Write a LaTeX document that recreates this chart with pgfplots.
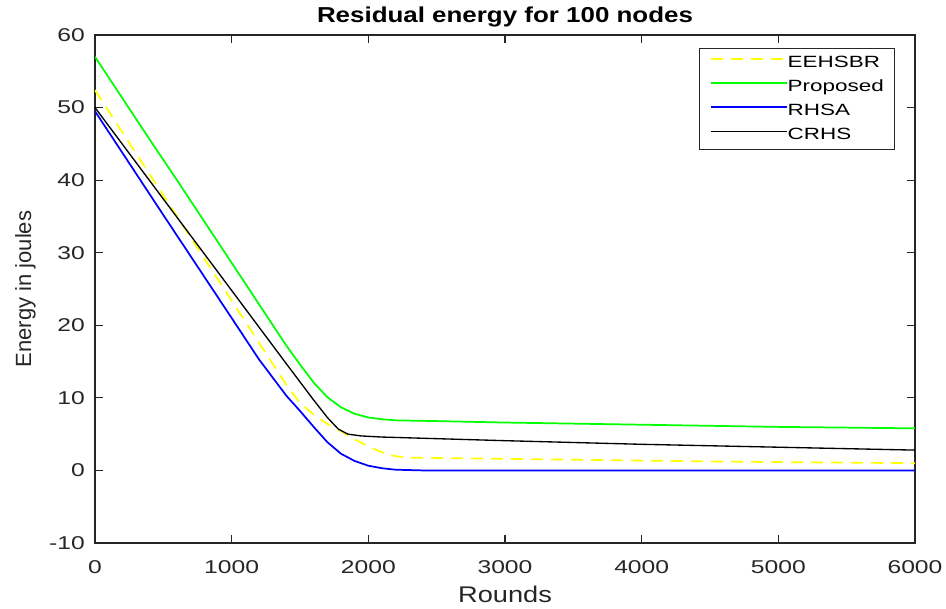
\documentclass[border=0pt]{standalone}
\usepackage{fontspec}
\setmainfont{Liberation Sans}
\newfontfamily\tickfont{Liberation Sans}[FakeStretch=1.33]
\newfontfamily\legfont{Liberation Sans}[FakeStretch=1.38]
\newfontfamily\labfont{Liberation Sans}[FakeStretch=1.2]
\usepackage{pgfplots}
\pgfplotsset{compat=1.18}
\definecolor{axgray}{RGB}{38,38,38}
\definecolor{myyellow}{RGB}{255,255,0}
\definecolor{mygreen}{RGB}{0,255,0}
\definecolor{myblue}{RGB}{0,0,255}
\begin{document}
\begin{tikzpicture}
\begin{axis}[
    scale only axis,
    width=615pt, height=381pt,
    xmin=0, xmax=6000, ymin=-10, ymax=60,
    xtick={0,1000,...,6000}, ytick={-10,0,...,60},
    scaled x ticks=false,
    tick align=inside, ticks=both,
    xtick pos=both, ytick pos=both,
    major tick length=6pt,
    axis line style={axgray, line width=0.8pt},
    every tick/.style={axgray, line width=0.8pt},
    /pgf/number format/assume math mode=true,
    /pgf/number format/1000 sep={},
    tick label style={font=\tickfont\fontsize{13.9}{16}\selectfont, text=axgray, inner sep=0pt},
    xticklabel style={anchor=base, yshift=-22.5pt},
    yticklabel style={anchor=east, xshift=-7.5pt},
    title={Residual energy for 100 nodes},
    title style={font=\labfont\bfseries\fontsize{16.2}{18}\selectfont, at={(axis description cs:0.5,1)}, anchor=base, yshift=3.75pt, inner sep=0pt},
    xlabel={Rounds},
    xlabel style={font=\labfont\fontsize{17}{19}\selectfont, text=axgray, at={(axis description cs:0.5,-0.118)}, anchor=base, inner sep=0pt},
    ylabel={Energy in joules},
    ylabel style={font=\fontsize{16.5}{18}\selectfont, text=axgray, at={(axis description cs:-0.078,0.5)}, anchor=base, inner sep=0pt},
    legend style={at={(0.9756,0.9744)}, anchor=north east,
        draw=axgray, line width=0.8pt, fill=white,
        inner xsep=8pt, inner ysep=5pt, row sep=6pt,
        font=\legfont\fontsize{12.2}{14}\selectfont,
        nodes={inner sep=0pt, text height=9pt, text depth=3pt}},
    legend cell align=left,
    legend image code/.code={\draw[#1] (0pt,3pt) -- (57pt,3pt);},
    every axis plot/.append style={line width=1.3pt},
]
\addplot[myyellow, dash pattern=on 9pt off 6pt] coordinates {
    (0,52.4)(400,40.8)(800,29.2)(1200,17.6)(1400,11.8)(1500,9.3)(1600,7.7)
    (1700,6.4)(1800,5.4)(1900,4.3)(2000,3.3)(2100,2.5)(2200,1.95)(2300,1.75)
    (3000,1.6)(4000,1.35)(5000,1.15)(6000,1.0)
};
\addlegendentry{EEHSBR}
\addplot[mygreen] coordinates {
    (0,57)(200,51.3)(400,45.6)(600,40)(800,34.3)(1000,28.6)(1200,22.9)
    (1400,17.2)(1500,14.6)(1600,12.1)(1700,10.1)(1800,8.7)(1900,7.8)(2000,7.3)
    (2100,7.05)(2200,6.9)(2500,6.8)(3000,6.6)(4000,6.3)(5000,6.0)(6000,5.8)
};
\addlegendentry{Proposed}
\addplot[myblue] coordinates {
    (0,49.5)(500,35.2)(1000,21)(1200,15.3)(1400,10.3)(1500,8.2)(1600,6.0)
    (1700,3.9)(1800,2.3)(1900,1.3)(2000,0.65)(2100,0.3)(2200,0.1)(2400,0)
    (6000,0)
};
\addlegendentry{RHSA}
\addplot[black, line width=1pt] coordinates {
    (0,50)(500,37.4)(1000,24.8)(1400,14.7)(1600,9.7)(1700,7.3)(1780,5.7)
    (1850,5.0)(1950,4.75)(2100,4.6)(3000,4.1)(4000,3.6)(5000,3.2)(6000,2.8)
};
\addlegendentry{CRHS}
\end{axis}
\pgfresetboundingbox
\path (-71.25pt,-48.75pt) rectangle (638.25pt,407.25pt);
\end{tikzpicture}
\end{document}
